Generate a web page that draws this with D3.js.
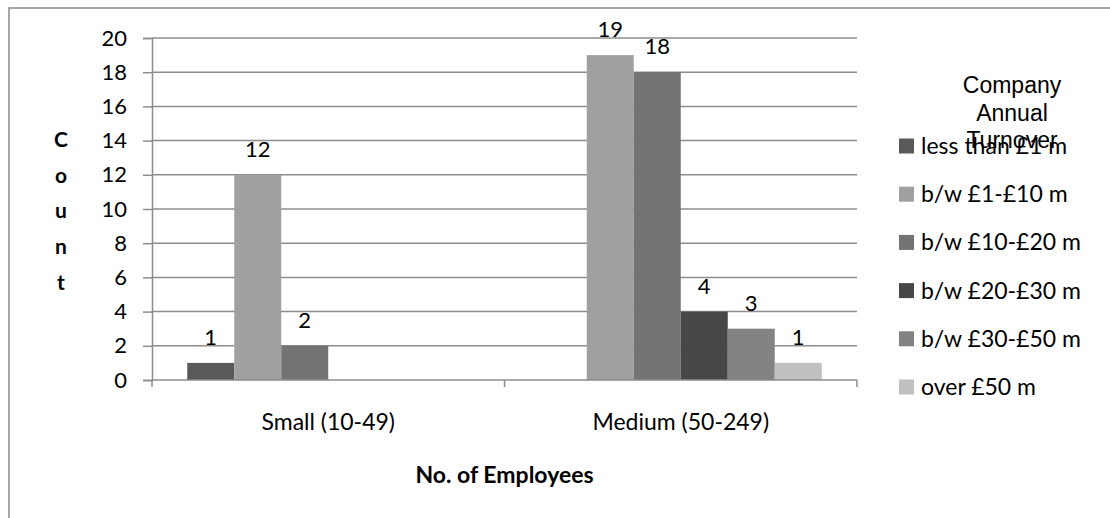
<!DOCTYPE html>
<html>
<head>
<meta charset="utf-8">
<script src="https://cdn.jsdelivr.net/npm/d3@7"></script>
<style>
  body { margin: 0; background: #fff; }
  .tick text { font-family: Lato, "Open Sans", sans-serif; font-size: 22px; fill: #000; }
</style>
</head>
<body>
<svg id="chart" width="1110" height="518"></svg>
<script>
var categories = ["Small (10-49)", "Medium (50-249)"];
var seriesNames = ["less than £1 m", "b/w £1-£10 m", "b/w £10-£20 m", "b/w £20-£30 m", "b/w £30-£50 m", "over £50 m"];
var seriesColors = ["#595959", "#a0a0a0", "#737373", "#474747", "#838383", "#c0c0c0"];
var smallValues = [1, 12, 2, 0, 0, 0];
var mediumValues = [0, 19, 18, 4, 3, 1];
var yTicks = [0, 2, 4, 6, 8, 10, 12, 14, 16, 18, 20];

var values = [smallValues, mediumValues];

var svg = d3.select("#chart");
var pLeft = 152, pRight = 857, pTop = 38, pBottom = 380;
var font = "Lato, 'Open Sans', sans-serif";

// outer frame
svg.append("rect")
   .attr("x", 9).attr("y", 8)
   .attr("width", 1120).attr("height", 540)
   .attr("fill", "none")
   .attr("stroke", "#8c8c8c")
   .attr("stroke-width", 1.5);

var y = d3.scaleLinear().domain([0, 20]).range([pBottom, pTop]);
var x0 = d3.scaleBand().domain(categories).range([pLeft, pRight]).paddingInner(0).paddingOuter(0);
var x1 = d3.scaleBand().domain(d3.range(seriesNames.length))
           .range([0, x0.bandwidth()]).paddingInner(0).paddingOuter(0.75);

// gridlines
svg.append("g").selectAll("line").data(yTicks.slice(1)).enter().append("line")
   .attr("x1", pLeft).attr("x2", pRight)
   .attr("y1", function(d){ return y(d); })
   .attr("y2", function(d){ return y(d); })
   .attr("stroke", "#8c8c8c").attr("stroke-width", 1.5);

// y axis
var yAxis = d3.axisLeft(y).tickValues(yTicks).tickSize(9).tickPadding(16);
svg.append("g")
   .attr("transform", "translate(" + pLeft + ",0)")
   .call(yAxis)
   .call(function(g){
     g.select(".domain").attr("stroke", "#8c8c8c").attr("stroke-width", 1.5);
     g.selectAll(".tick line").attr("stroke", "#8c8c8c").attr("stroke-width", 1.5);
   });

// bars
var groups = svg.append("g").selectAll("g").data(categories).enter().append("g")
   .attr("transform", function(d){ return "translate(" + x0(d) + ",0)"; });

function nonZero(i){
  return values[i].map(function(v, j){ return {s: j, v: v}; }).filter(function(d){ return d.v > 0; });
}

groups.selectAll("rect")
   .data(function(d, i){ return nonZero(i); })
   .enter().append("rect")
   .attr("x", function(d){ return x1(d.s); })
   .attr("y", function(d){ return y(d.v); })
   .attr("width", x1.bandwidth())
   .attr("height", function(d){ return pBottom - y(d.v); })
   .attr("fill", function(d){ return seriesColors[d.s]; });

groups.selectAll("text")
   .data(function(d, i){ return nonZero(i); })
   .enter().append("text")
   .attr("x", function(d){ return x1(d.s) + x1.bandwidth() / 2; })
   .attr("y", function(d){ return y(d.v) - 18; })
   .attr("text-anchor", "middle")
   .style("font-family", font)
   .style("font-size", "22px")
   .text(function(d){ return d.v; });

// x axis
svg.append("g").selectAll("text").data(categories).enter().append("text")
   .attr("x", function(d){ return x0(d) + x0.bandwidth() / 2; })
   .attr("y", 430)
   .attr("text-anchor", "middle")
   .style("font-family", font)
   .style("font-size", "23px")
   .text(function(d){ return d; });
svg.append("line").attr("x1", pLeft).attr("x2", pRight)
   .attr("y1", pBottom).attr("y2", pBottom)
   .attr("stroke", "#8c8c8c").attr("stroke-width", 1.5);
svg.append("g").selectAll("line").data([pLeft, x0(categories[1]), pRight]).enter().append("line")
   .attr("x1", function(d){ return d; }).attr("x2", function(d){ return d; })
   .attr("y1", pBottom).attr("y2", pBottom + 7)
   .attr("stroke", "#8c8c8c").attr("stroke-width", 1.5);

// axis titles
svg.append("text")
   .attr("x", (pLeft + pRight) / 2).attr("y", 483)
   .attr("text-anchor", "middle")
   .style("font-family", font)
   .style("font-size", "23px").style("font-weight", "bold")
   .text("No. of Employees");

svg.append("g").selectAll("text").data("Count".split("")).enter().append("text")
   .attr("x", 61)
   .attr("y", function(d, i){ return 147 + i * 35.7; })
   .attr("text-anchor", "middle")
   .style("font-family", font)
   .style("font-size", "21px").style("font-weight", "bold")
   .text(function(d){ return d; });

// legend
var legTitle = ["Company", "Annual", "Turnover"];
svg.append("g").selectAll("text").data(legTitle).enter().append("text")
   .attr("x", 1012)
   .attr("y", function(d, i){ return 93 + i * 27.5; })
   .attr("text-anchor", "middle")
   .style("font-family", "'Liberation Sans', Arial, sans-serif")
   .style("font-size", "23px")
   .text(function(d){ return d; });

var leg = svg.append("g").selectAll("g").data(seriesNames).enter().append("g")
   .attr("transform", function(d, i){ return "translate(899," + (146 + i * 48.2) + ")"; });
leg.append("rect")
   .attr("x", 0).attr("y", -7.5).attr("width", 15).attr("height", 15)
   .attr("fill", function(d, i){ return seriesColors[i]; });
leg.append("text")
   .attr("x", 22).attr("y", 8)
   .style("font-family", font)
   .style("font-size", "23px")
   .text(function(d){ return d; });
</script>
</body>
</html>
